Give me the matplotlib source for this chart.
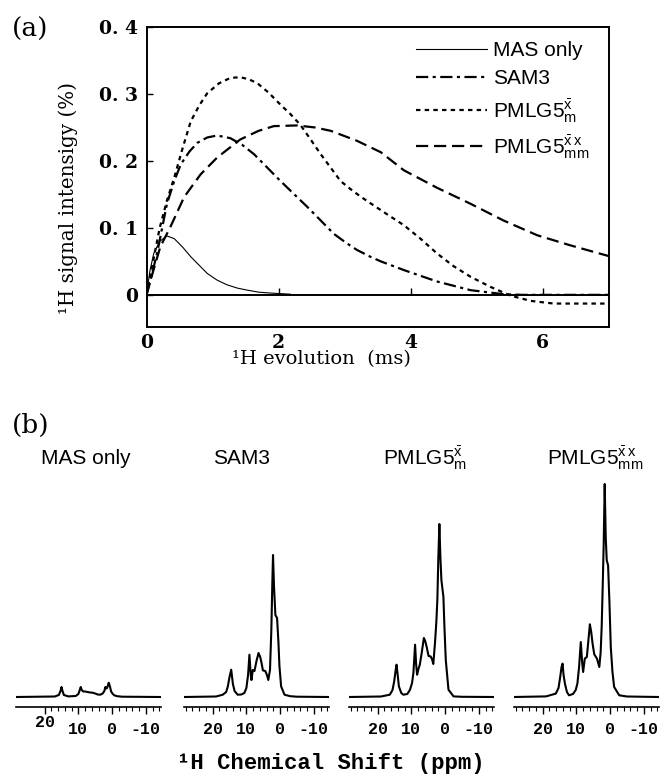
import matplotlib
matplotlib.use('Agg')
import matplotlib.pyplot as plt
from matplotlib.ticker import FixedLocator, MultipleLocator, FuncFormatter

plt.rcParams['font.family'] = 'DejaVu Serif'
plt.rcParams['axes.unicode_minus'] = False
plt.rcParams['mathtext.fontset'] = 'custom'
plt.rcParams['mathtext.rm'] = 'Liberation Sans'
plt.rcParams['mathtext.it'] = 'Liberation Sans'
plt.rcParams['mathtext.bf'] = 'Liberation Sans:bold'

W, H = 660, 776

# nazwy sekwencji (legenda i tytuly panelu b)
LABELS = ['MAS only', 'SAM3', r'PMLG5$^{\bar{x}}_{m}$', r'PMLG5$^{\bar{x}\,x}_{mm}$']

# (a) krzywe narastania sygnalu 1H, czas w ms, intensywnosc w %
t_mas = [0, 0.05, 0.11, 0.2, 0.31, 0.42, 0.55, 0.67, 0.8, 0.92, 1.07, 1.22, 1.38, 1.53, 1.7, 1.83, 2.0, 2.18]
i_mas = [0, 0.035, 0.062, 0.08, 0.088, 0.084, 0.071, 0.057, 0.044, 0.032, 0.022, 0.015, 0.010, 0.007,
         0.004, 0.003, 0.002, 0.001]

t_sam = [0, 0.08, 0.16, 0.31, 0.42, 0.52, 0.65, 0.77, 0.92, 1.07, 1.27, 1.45, 1.63, 1.83, 2.03, 2.24,
         2.44, 2.64, 2.84, 3.02, 3.19, 3.39, 3.55, 3.9, 4.4, 4.91, 5.41, 5.7, 7.0]
i_sam = [0, 0.03, 0.062, 0.136, 0.17, 0.195, 0.214, 0.227, 0.235, 0.238, 0.234, 0.224, 0.210, 0.190,
         0.170, 0.150, 0.131, 0.111, 0.091, 0.078, 0.067, 0.057, 0.050, 0.037, 0.020, 0.007, 0.001, 0.0, 0.0]

t_m = [0, 0.1, 0.2, 0.31, 0.42, 0.55, 0.67, 0.8, 0.92, 1.1, 1.27, 1.42, 1.55, 1.68, 1.85, 2.03, 2.18,
       2.33, 2.48, 2.64, 2.79, 2.94, 3.09, 3.24, 3.39, 3.65, 3.9, 4.15, 4.4, 4.65, 4.91, 5.21, 5.51,
       5.82, 6.17, 7.0]
i_m = [0, 0.05, 0.1, 0.141, 0.175, 0.22, 0.259, 0.283, 0.301, 0.316, 0.324, 0.325, 0.322, 0.316, 0.302,
       0.284, 0.27, 0.254, 0.233, 0.21, 0.19, 0.17, 0.158, 0.147, 0.137, 0.12, 0.104, 0.084, 0.062,
       0.043, 0.027, 0.012, -0.001, -0.009, -0.013, -0.013]

t_mm = [0, 0.1, 0.21, 0.36, 0.57, 0.82, 1.07, 1.42, 1.7, 1.93, 2.28, 2.55, 2.79, 3.19, 3.55, 3.9, 4.4,
        4.91, 5.41, 5.92, 6.42, 7.0]
i_mm = [0, 0.035, 0.072, 0.101, 0.146, 0.18, 0.205, 0.232, 0.245, 0.252, 0.253, 0.25, 0.245, 0.23,
        0.213, 0.186, 0.16, 0.136, 0.111, 0.089, 0.074, 0.058]

# (b) widma 1H, przesuniecie w ppm, intensywnosc w jednostkach wzglednych
ppm_mas = [28.5, 17.0, 15.8, 15.3, 15.0, 14.7, 14.3, 13.0, 10.8, 10.0, 9.6, 9.3, 9.0, 8.6, 8.0, 7.3,
           6.5, 5.8, 5.0, 4.3, 3.5, 2.8, 2.3, 2.0, 1.7, 1.5, 1.2, 1.0, 0.6, 0.3, -0.2, -0.7, -1.5,
           -3.0, -14.5]
spec_mas = [0, 0.5, 2, 6, 10, 6, 2, 0.6, 1, 3, 7, 10, 7, 5.6, 5.5, 5, 4.5, 4.3, 3.5, 2.5, 2.3, 3.5,
            6, 10, 8.5, 9, 12, 14.3, 10, 5.6, 3, 1.6, 0.8, 0.3, 0]

ppm_sam = [28.5, 19.0, 17.0, 16.0, 15.5, 15.0, 14.5, 14.0, 13.5, 12.6, 11.5, 10.6, 10.0, 9.5, 9.1,
           8.7, 8.5, 8.1, 7.6, 7.0, 6.4, 5.9, 5.5, 5.1, 4.4, 3.9, 3.5, 3.0, 2.6, 2.3, 2.1, 1.8, 1.4,
           0.9, 0.5, 0.2, -0.3, -1.3, -3.0, -5.0, -14.5]
spec_sam = [0, 0.5, 2.3, 5, 10.6, 20, 27.3, 13, 6, 2.3, 2.5, 4, 9, 22, 42.3, 22, 17, 27, 26, 36, 44,
            40, 34, 26.6, 26, 22, 17, 27, 67, 115, 142, 110, 82, 79, 55, 31, 10.6, 2.3, 0.8, 0.3, 0]

ppm_m = [28.5, 19.0, 16.4, 15.6, 15.1, 14.7, 14.4, 14.0, 13.7, 13.0, 12.4, 11.2, 10.4, 9.8, 9.4,
         8.9, 8.6, 8.3, 7.9, 7.5, 6.9, 6.3, 5.9, 5.5, 4.9, 4.3, 3.9, 3.5, 3.0, 2.6, 2.3, 2.0, 1.7,
         1.4, 1.1, 0.5, 0.2, -0.2, -1.0, -2.5, -5.0, -14.5]
spec_m = [0, 0.5, 2.3, 7, 15.6, 26, 32.3, 20, 10.6, 4, 2.3, 3, 7.3, 14, 24, 52.3, 33, 22.3, 28, 32.3,
          45, 59, 56, 50.6, 41, 40.6, 38, 33, 54, 75, 97, 140, 173, 140, 117, 100, 70, 37, 7.3, 0.6,
          0.2, 0]

ppm_mm = [28.5, 19.0, 16.1, 15.3, 14.8, 14.4, 14.1, 13.8, 13.4, 12.8, 12.2, 11.0, 10.2, 9.7, 9.2,
          8.7, 8.3, 8.0, 7.5, 6.9, 6.4, 6.0, 5.6, 5.2, 4.7, 3.9, 3.2, 2.8, 2.5, 2.2, 1.9, 1.6, 1.3,
          1.0, 0.6, 0.2, -0.2, -0.7, -1.2, -2.7, -5.0, -14.5]
spec_mm = [0, 0.6, 3.4, 9, 20, 30, 33.4, 22, 13.4, 5, 1.7, 3, 7, 13.4, 30, 55, 35, 25, 38.4, 40, 58,
           72.7, 65, 53.4, 42.7, 38.4, 30, 45, 70, 110, 153, 213, 160, 136.7, 131.7, 95, 50, 25, 10,
           1.7, 0.5, 0]


def box(x0, y0, x1, y1):
    # prostokat w pikselach (od lewego gornego rogu) -> ulamki figury
    return [x0 / W, 1 - y1 / H, (x1 - x0) / W, (y1 - y0) / H]


fig = plt.figure(figsize=(W / 100, H / 100), dpi=100)

# ---------------- panel (a) ----------------
ax = fig.add_axes(box(146.5, 27, 608.5, 327))
ax.plot(t_mas, i_mas, color='k', lw=0.8, label=LABELS[0])
ax.plot(t_sam, i_sam, color='k', lw=1.6, dashes=(5.5, 2, 1.4, 2), label=LABELS[1])
ax.plot(t_m, i_m, color='k', lw=1.6, dashes=(2.0, 1.9), label=LABELS[2])
ax.plot(t_mm, i_mm, color='k', lw=1.6, dashes=(5.5, 2.6), label=LABELS[3])

ymin, ymax = -0.048, 0.4
ax.set_xlim(0, 7)
ax.set_ylim(ymin, ymax)
for s in ax.spines.values():
    s.set_linewidth(1.4)

ax.set_xticks([0, 2, 4, 6])
ax.set_yticks([0, 0.1, 0.2, 0.3, 0.4])
ax.yaxis.set_major_formatter(FuncFormatter(lambda v, _: '0' if abs(v) < 1e-9 else f'{v:.1f}'.replace('.', '. ')))
ax.tick_params(axis='x', length=0, pad=5, labelsize=13.5)
ax.tick_params(axis='y', direction='in', length=4, width=1, pad=6, labelsize=13.5)
for lab in ax.get_xticklabels() + ax.get_yticklabels():
    lab.set_fontweight('bold')

# linia zera z podzialka
zero = ax.secondary_xaxis((0 - ymin) / (ymax - ymin))
zero.set_xticks([2, 4, 6])
zero.tick_params(direction='in', length=5, width=1, labelbottom=False)
zero.spines['bottom'].set_linewidth(1.4)

ax.set_ylabel('¹H signal intensigy (%)', fontsize=14.3)
ax.yaxis.set_label_coords(-0.148, 0.43)
ax.set_xlabel('¹H evolution  (ms)', fontsize=14)
ax.xaxis.set_label_coords(0.378, -0.078)

ax.legend(loc='upper left', bbox_to_anchor=(0.583, 0.952), frameon=False, borderaxespad=0,
          borderpad=0, handlelength=3.4, handletextpad=0.3, labelspacing=0.42,
          prop={'family': 'Liberation Sans', 'size': 15})

fig.text(12 / W, 1 - 29 / H, '(a)', fontsize=19, va='center')

# ---------------- panel (b) ----------------
spectra = [(ppm_mas, spec_mas), (ppm_sam, spec_sam), (ppm_m, spec_m), (ppm_mm, spec_mm)]
lefts = [16, 184, 349, 514]
title_x = [86, 242, 425, 595]

for k, (ppm, spec) in enumerate(spectra):
    bx = fig.add_axes(box(lefts[k], 470, lefts[k] + 145, 707))
    bx.plot(ppm, spec, color='k', lw=1.5)
    bx.set_xlim(28.5, -14.5)
    bx.set_ylim(-10, 227)
    for side in ['left', 'right', 'top']:
        bx.spines[side].set_visible(False)
    bx.spines['bottom'].set_linewidth(1.2)
    bx.set_yticks([])
    bx.xaxis.set_major_locator(FixedLocator([20, 10, 0, -10]))
    if k == 0:
        bx.xaxis.set_minor_locator(FixedLocator(list(range(20, -15, -2))))
    else:
        bx.xaxis.set_minor_locator(MultipleLocator(2))
    bx.tick_params(axis='x', which='major', direction='out', length=5, width=1, pad=6, labelsize=12)
    bx.tick_params(axis='x', which='minor', direction='out', length=3, width=0.8)
    for lab in bx.get_xticklabels():
        lab.set_fontfamily('Liberation Mono')
        lab.set_fontweight('bold')
    if k == 0:
        bx.xaxis.get_major_ticks()[0].set_pad(1)
    fig.text(title_x[k] / W, 1 - 464 / H, LABELS[k], family='Liberation Sans', fontsize=15,
             ha='center', va='baseline')

fig.text(12 / W, 1 - 425 / H, '(b)', fontsize=19, va='center')
fig.text(331 / W, 1 - 763 / H, '¹H Chemical Shift (ppm)', family='Liberation Mono', weight='bold',
         fontsize=16, ha='center', va='center')

fig.savefig('out.png', dpi=100)
